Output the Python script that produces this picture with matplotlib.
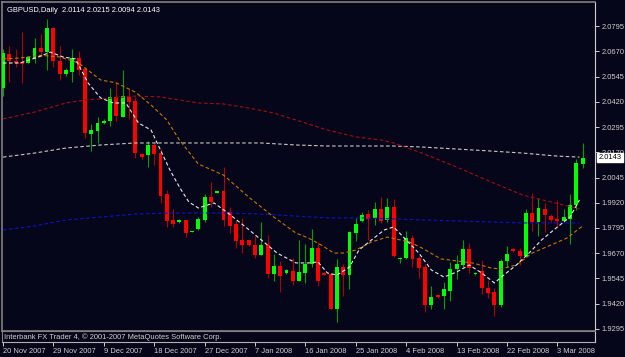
import matplotlib
matplotlib.use("Agg")
import matplotlib.pyplot as plt
import numpy as np

# ---------------- data ----------------
opens = [2.0487, 2.0657, 2.0624, 2.0619, 2.0614, 2.0634, 2.0686, 2.0667, 2.0785, 2.0624,
         2.0558, 2.0569, 2.0635, 2.0581, 2.0261, 2.0276, 2.0317, 2.0327, 2.0442, 2.0347,
         2.0446, 2.0422, 2.0162, 2.0158, 2.0208, 2.0168, 1.9964, 1.9835, 1.9825, 1.9835,
         1.9777, 1.9789, 1.9835, 1.9947, 1.9967, 1.9979, 1.9876, 1.9815, 1.9736, 1.9736,
         1.9711, 1.9662, 1.9711, 1.9568, 1.9607, 1.9571, 1.9584, 1.9533, 1.9574, 1.9619,
         1.9696, 1.9571, 1.9568, 1.9394, 1.9601, 1.9563, 1.9772, 1.9828, 1.9865, 1.9843,
         1.9889, 1.9833, 1.9899, 1.9640, 1.9644, 1.9746, 1.9644, 1.9601, 1.9414, 1.9462,
         1.9459, 1.9485, 1.9591, 1.9614, 1.9690, 1.9566, 1.9584, 1.9500, 1.9479, 1.9414,
         1.9630, 1.9693, 1.9683, 1.9657, 1.9868, 1.9825, 1.9889, 1.9853, 1.9842, 1.9830,
         1.9842, 1.9908, 2.0114]
highs = [2.0680, 2.0696, 2.0683, 2.0766, 2.0643, 2.0736, 2.0756, 2.0830, 2.0792, 2.0696,
         2.0586, 2.0680, 2.0670, 2.0591, 2.0310, 2.0343, 2.0335, 2.0487, 2.0518, 2.0578,
         2.0482, 2.0446, 2.0168, 2.0228, 2.0218, 2.0188, 1.9984, 1.9889, 1.9842, 1.9835,
         1.9781, 1.9848, 1.9964, 2.0021, 1.9977, 2.0099, 1.9901, 1.9835, 1.9843, 1.9736,
         1.9753, 1.9827, 1.9761, 1.9667, 1.9634, 1.9594, 1.9644, 1.9736, 1.9716, 1.9789,
         1.9728, 1.9579, 1.9571, 1.9640, 1.9617, 1.9781, 1.9845, 1.9873, 1.9884, 1.9924,
         1.9950, 1.9942, 1.9937, 1.9653, 1.9782, 1.9761, 1.9657, 1.9617, 1.9508, 1.9462,
         1.9528, 1.9629, 1.9662, 1.9736, 1.9720, 1.9578, 1.9637, 1.9538, 1.9500, 1.9640,
         1.9706, 1.9696, 1.9696, 1.9888, 1.9970, 1.9944, 1.9921, 1.9865, 1.9934, 1.9888,
         1.9964, 2.0135, 2.0215]
lows = [2.0449, 2.0520, 2.0594, 2.0512, 2.0611, 2.0611, 2.0640, 2.0578, 2.0591, 2.0528,
        2.0548, 2.0520, 2.0553, 2.0239, 2.0178, 2.0215, 2.0310, 2.0300, 2.0325, 2.0343,
        2.0337, 2.0144, 2.0135, 2.0096, 2.0107, 1.9921, 1.9802, 1.9802, 1.9822, 1.9748,
        1.9777, 1.9786, 1.9827, 1.9898, 1.9967, 1.9807, 1.9769, 1.9698, 1.9670, 1.9708,
        1.9644, 1.9662, 1.9546, 1.9535, 1.9479, 1.9568, 1.9513, 1.9533, 1.9525, 1.9601,
        1.9508, 1.9561, 1.9393, 1.9330, 1.9459, 1.9495, 1.9731, 1.9825, 1.9736, 1.9810,
        1.9820, 1.9825, 1.9650, 1.9624, 1.9640, 1.9601, 1.9546, 1.9381, 1.9396, 1.9449,
        1.9396, 1.9434, 1.9543, 1.9601, 1.9574, 1.9563, 1.9469, 1.9446, 1.9357, 1.9403,
        1.9601, 1.9677, 1.9611, 1.9650, 1.9782, 1.9756, 1.9776, 1.9827, 1.9802, 1.9827,
        1.9715, 1.9885, 2.0094]
closes = [2.0660, 2.0624, 2.0611, 2.0606, 2.0640, 2.0686, 2.0667, 2.0785, 2.0624, 2.0556,
          2.0578, 2.0635, 2.0578, 2.0267, 2.0281, 2.0314, 2.0327, 2.0442, 2.0351, 2.0449,
          2.0419, 2.0165, 2.0145, 2.0208, 2.0162, 1.9954, 1.9830, 1.9815, 1.9835, 1.9769,
          1.9781, 1.9840, 1.9947, 1.9926, 1.9977, 1.9835, 1.9807, 1.9731, 1.9711, 1.9711,
          1.9662, 1.9711, 1.9568, 1.9607, 1.9559, 1.9587, 1.9533, 1.9576, 1.9619, 1.9696,
          1.9535, 1.9563, 1.9394, 1.9601, 1.9563, 1.9777, 1.9815, 1.9861, 1.9840, 1.9889,
          1.9832, 1.9899, 1.9657, 1.9647, 1.9746, 1.9642, 1.9599, 1.9414, 1.9452, 1.9454,
          1.9492, 1.9593, 1.9617, 1.9690, 1.9597, 1.9574, 1.9497, 1.9472, 1.9414, 1.9634,
          1.9667, 1.9680, 1.9657, 1.9868, 1.9823, 1.9894, 1.9861, 1.9837, 1.9830, 1.9850,
          1.9908, 2.0116, 2.0143]

# moving-average lines (bar position, price)
ma_fast_x = [0, 2.7, 6, 7.5, 9.5, 11.5, 13.5, 15.5, 17.5, 19.5, 21.5, 23.5, 25, 26.5, 28, 29.5,
             31, 33.5, 35.5, 38.5, 41, 43.5, 46.5, 48.5, 50, 51.5, 53, 55, 56.5, 58.5, 60.5,
             62, 64, 66, 68, 70, 72, 74, 76, 78, 79.5, 81.5, 83.5, 85.5, 88, 90, 91.5]
ma_fast_y = [2.0612, 2.0612, 2.0646, 2.0666, 2.0642, 2.0632, 2.0513, 2.0439, 2.0414, 2.0414,
             2.0315, 2.0280, 2.0181, 2.0082, 1.9998, 1.9924, 1.9894, 1.9919, 1.9874, 1.9800,
             1.9736, 1.9671, 1.9622, 1.9622, 1.9627, 1.9572, 1.9562, 1.9602, 1.9686, 1.9736,
             1.9785, 1.9800, 1.9736, 1.9671, 1.9587, 1.9552, 1.9577, 1.9612, 1.9572, 1.9523,
             1.9562, 1.9612, 1.9671, 1.9736, 1.9800, 1.9849, 1.9934]
ma_orange_x = [0, 2.7, 6, 9, 12, 15.5, 18, 21, 23.5, 26, 28, 31, 35, 39, 43, 46.5, 48.5, 50.5,
               52.5, 54, 56, 58.5, 61, 64.5, 66.5, 69.5, 72, 74.5, 77.5, 79, 81.5, 84, 87,
               89.5, 92]
ma_orange_y = [2.0632, 2.0637, 2.0650, 2.0642, 2.0612, 2.0528, 2.0513, 2.0468, 2.0404, 2.0330,
               2.0231, 2.0112, 2.0057, 1.9948, 1.9849, 1.9770, 1.9745, 1.9711, 1.9671, 1.9671,
               1.9686, 1.9726, 1.9750, 1.9726, 1.9696, 1.9642, 1.9632, 1.9622, 1.9597, 1.9592,
               1.9612, 1.9671, 1.9711, 1.9745, 1.9805]
ma_red_x = [0, 5, 10, 13, 15.5, 21, 25, 28, 31, 35, 39, 43, 47.5, 51.5, 56, 60, 62, 66.5, 72,
            77.5, 82.5, 87, 91.5]
ma_red_y = [2.0335, 2.0369, 2.0414, 2.0429, 2.0434, 2.0448, 2.0444, 2.0429, 2.0414, 2.0409,
            2.0389, 2.0364, 2.0320, 2.0280, 2.0246, 2.0231, 2.0216, 2.0166, 2.0097, 2.0023,
            1.9958, 1.9924, 1.9889]
ma_gray_x = [0, 5, 10, 15.5, 21, 26, 31, 36, 41, 46.5, 51.5, 57, 62, 66.5, 72, 77.5, 82.5, 88,
             91.5]
ma_gray_y = [2.0146, 2.0166, 2.0191, 2.0206, 2.0216, 2.0216, 2.0216, 2.0216, 2.0216, 2.0206,
             2.0201, 2.0201, 2.0201, 2.0196, 2.0186, 2.0176, 2.0166, 2.0151, 2.0146]
ma_blue_x = ma_gray_x
ma_blue_y = [1.9785, 1.9805, 1.9835, 1.9849, 1.9864, 1.9869, 1.9869, 1.9869, 1.9864, 1.9854,
             1.9845, 1.9845, 1.9840, 1.9835, 1.9830, 1.9825, 1.9820, 1.9820, 1.9820]

price_ticks = [2.0795, 2.0670, 2.0545, 2.0420, 2.0295, 2.0170, 2.0045, 1.9920, 1.9795,
               1.9670, 1.9545, 1.9420, 1.9295]
date_pos = [0, 8, 16, 24, 32, 40, 48, 56, 64, 72, 80, 88]
date_labels = ["20 Nov 2007", "29 Nov 2007", "9 Dec 2007", "18 Dec 2007", "27 Dec 2007",
               "7 Jan 2008", "16 Jan 2008", "25 Jan 2008", "4 Feb 2008", "13 Feb 2008",
               "22 Feb 2008", "3 Mar 2008"]
title = "GBPUSD,Daily  2.0114 2.0215 2.0094 2.0143"
last_price = 2.0143

# ---------------- style ----------------
BG = "#06061A"
FONT = ["Liberation Sans", "DejaVu Sans"]
FS = 5.4
plt.rcParams["font.family"] = FONT

W, H = 625, 357
fig = plt.figure(figsize=(W / 100, H / 100), dpi=100, facecolor=BG)

# main chart window: x 2..595, y 2..331 (pixels)
ax = fig.add_axes([2 / W, 1 - 331 / H, 593 / W, 329 / H])
ax.set_facecolor(BG)
ax.set_xlim(-0.16, 93.97)
ax.set_ylim(1.9285, 2.0914)

n = len(opens)
xs = np.arange(n)
for i in range(n):
    o, h, l, c = opens[i], highs[i], lows[i], closes[i]
    up = c >= o
    wick = "#00A000" if up else "#B00000"
    body = "#00FF00" if up else "#FF0000"
    ax.vlines(xs[i], l, h, color=wick, lw=0.8, zorder=2)
    hgt = max(abs(c - o), 0.0004)
    ax.bar(xs[i], hgt, bottom=min(o, c) - (0.0002 if abs(c - o) < 0.0004 else 0),
           width=0.62, color=body, edgecolor="none", zorder=3)

dash = (0, (3.2, 2.2))
ax.plot(ma_gray_x, ma_gray_y, color="#C8C8C8", lw=0.8, ls=dash, zorder=4)
ax.plot(ma_blue_x, ma_blue_y, color="#1010C8", lw=0.8, ls=dash, zorder=4)
ax.plot(ma_red_x, ma_red_y, color="#A01010", lw=0.8, ls=dash, zorder=4)
ax.plot(ma_orange_x, ma_orange_y, color="#C07808", lw=0.8, ls=dash, zorder=4)
ax.plot(ma_fast_x, ma_fast_y, color="#E8E8E8", lw=0.8, ls=dash, zorder=5)

for s in ["left", "top", "bottom"]:
    ax.spines[s].set_color("#808080")
    ax.spines[s].set_linewidth(1.2)
ax.spines["right"].set_color("#D0D0D0")
ax.spines["right"].set_linewidth(0.8)

ax.set_xticks([])
ax.yaxis.tick_right()
ax.set_yticks(price_ticks)
ax.set_yticklabels([f"{p:.4f}" for p in price_ticks])
ax.tick_params(axis="y", colors="#D0D0D0", labelsize=FS, length=3, width=0.7, pad=1.5)

ax.text(0.008, 0.985, title, transform=ax.transAxes, color="white", fontsize=FS,
        va="top", ha="left")

ax.annotate(f"{last_price:.4f}", xy=(1.0, last_price), xycoords=("axes fraction", "data"),
            xytext=(2.5, 0), textcoords="offset points", ha="left", va="center",
            fontsize=FS, color="black",
            bbox=dict(boxstyle="square,pad=0.15", fc="white", ec="white"),
            annotation_clip=False, zorder=10)

# sub-window with copyright text and date axis: y 331..342
sub = fig.add_axes([2 / W, 1 - 342 / H, 593 / W, 11 / H])
sub.set_facecolor(BG)
sub.set_xlim(-0.16, 93.97)
sub.set_ylim(0, 1)
for s in ["left", "top"]:
    sub.spines[s].set_color("#808080")
sub.spines["right"].set_color("#D0D0D0")
sub.spines["bottom"].set_color("#B0B0B0")
sub.spines["right"].set_linewidth(0.8)
sub.set_yticks([])
sub.text(0.003, 0.45, "Interbank FX Trader 4, \u00a9 2001-2007 MetaQuotes Software Corp.",
         transform=sub.transAxes, color="#D0D0D0", fontsize=FS, va="center", ha="left")
sub.set_xticks(date_pos)
sub.set_xticklabels(date_labels, ha="left")
sub.tick_params(axis="x", colors="#D0D0D0", labelsize=FS, length=3, width=0.7, pad=1.5)
for lab in sub.get_xticklabels():
    lab.set_horizontalalignment("left")

fig.savefig("out.png", dpi=100, facecolor=BG)
